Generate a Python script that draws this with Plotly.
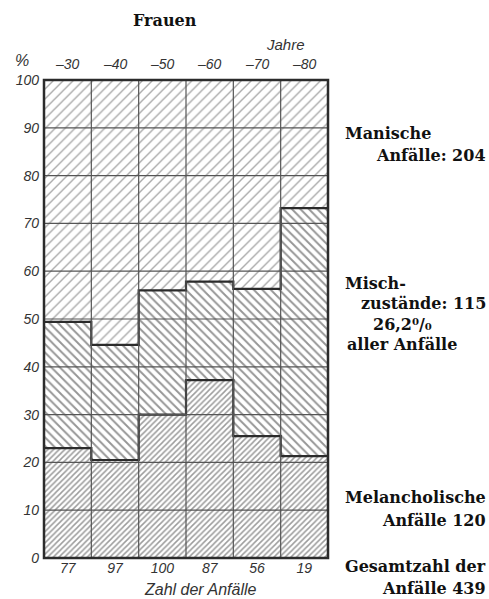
import plotly.graph_objects as go

age_groups = ["–30", "–40", "–50", "–60", "–70", "–80"]
case_counts = ["77", "97", "100", "87", "56", "19"]
melancholic = [23.0, 20.5, 30.0, 37.2, 25.5, 21.3]
mixed_top = [49.4, 44.6, 56.0, 57.8, 56.3, 73.2]
mixed = [round(t - m, 1) for t, m in zip(mixed_top, melancholic)]
manic = [round(100 - t, 1) for t in mixed_top]
y_ticks = list(range(0, 101, 10))

x = list(range(len(age_groups)))
LINE = "#2b2b2b"
fig = go.Figure()
fig.add_bar(x=x, y=melancholic, width=1,
            marker=dict(color="white", line=dict(width=0),
                        pattern=dict(shape="/", size=4, solidity=0.38, fgcolor="#3a3a3a", bgcolor="white")))
fig.add_bar(x=x, y=mixed, width=1,
            marker=dict(color="white", line=dict(width=0),
                        pattern=dict(shape="\\", size=6, solidity=0.32, fgcolor="#2e2e2e", bgcolor="white")))
fig.add_bar(x=x, y=manic, width=1,
            marker=dict(color="white", line=dict(width=0),
                        pattern=dict(shape="/", size=7, solidity=0.2, fgcolor="#555", bgcolor="white")))

# step boundaries between the segments
edges = [i - 0.5 for i in x] + [x[-1] + 0.5]
for vals in (melancholic, mixed_top):
    fig.add_scatter(x=edges, y=vals + [vals[-1]], mode="lines", line_shape="hv",
                    line=dict(color=LINE, width=2.2), hoverinfo="skip")

shapes = []
for v in y_ticks[1:-1]:
    shapes.append(dict(type="line", xref="paper", yref="y", x0=0, x1=1, y0=v, y1=v,
                       line=dict(color="#555", width=1.2), layer="above"))
for i in range(1, len(age_groups)):
    shapes.append(dict(type="line", xref="x", yref="paper", x0=i - 0.5, x1=i - 0.5, y0=0, y1=1,
                       line=dict(color="#555", width=1.2), layer="above"))
shapes.append(dict(type="rect", xref="paper", yref="paper", x0=0, x1=1, y0=0, y1=1,
                   line=dict(color=LINE, width=2.5), layer="above"))

W, H = 489, 599
L, R, T, B = 44, 161, 80, 41
PW, PH = W - L - R, H - T - B

def px(xp):
    return (xp - L) / PW

def py(yp):
    return (H - B - yp) / PH

ann = []
ital = dict(family="Liberation Sans", size=14, color="#333", style="italic")
for i, g in enumerate(age_groups):
    ann.append(dict(x=i, y=py(64), xref="x", yref="paper", text=g, showarrow=False,
                    font=ital, xanchor="center", yanchor="middle"))
ann.append(dict(x=px(285), y=py(45), xref="paper", yref="paper", text="Jahre", showarrow=False,
                font=dict(family="Liberation Sans", size=15, color="#333", style="italic"),
                xanchor="center", yanchor="middle"))
ann.append(dict(x=px(22), y=py(60), xref="paper", yref="paper", text="%", showarrow=False,
                font=dict(family="Liberation Sans", size=16, color="#333", style="italic"),
                xanchor="center", yanchor="middle"))
ann.append(dict(x=px(200), y=py(589), xref="paper", yref="paper", text="Zahl der Anfälle", showarrow=False,
                font=dict(family="Liberation Sans", size=16, color="#333", style="italic"),
                xanchor="center", yanchor="middle"))
ann.append(dict(x=px(165), y=py(20), xref="paper", yref="paper", text="<b>Frauen</b>", showarrow=False,
                font=dict(family="DejaVu Serif", size=16, color="#111"), xanchor="center", yanchor="middle"))

serif = dict(family="DejaVu Serif", size=16, color="#111", weight="bold")
right_lines = [
    ("Manische", 343, 133, "left"),
    ("Anfälle: 204", 488, 155, "right"),
    ("Misch-", 343, 283, "left"),
    ("zustände: 115", 488, 303, "right"),
    ("26,2⁰/₀", 402, 324, "center"),
    ("aller Anfälle", 345, 344, "left"),
    ("Melancholische", 488, 497, "right"),
    ("Anfälle 120", 488, 520, "right"),
    ("Gesamtzahl der", 488, 566, "right"),
    ("Anfälle 439", 488, 588, "right"),
]
for text, xp, yp, anchor in right_lines:
    ann.append(dict(x=px(xp), y=py(yp), xref="paper", yref="paper", text=text, showarrow=False,
                    font=serif, xanchor=anchor, yanchor="middle"))

fig.update_layout(
    barmode="stack", bargap=0, showlegend=False,
    width=W, height=H, margin=dict(l=L, r=R, t=T, b=B),
    paper_bgcolor="white", plot_bgcolor="white",
    shapes=shapes, annotations=ann,
    xaxis=dict(range=[-0.5, len(age_groups) - 0.5], tickvals=x, ticktext=case_counts,
               tickfont=ital, showgrid=False, zeroline=False, ticks="", ticklen=0, automargin=False),
    yaxis=dict(range=[0, 100], tickvals=y_ticks, tickfont=ital, showgrid=False,
               zeroline=False, ticks="", ticklabelstandoff=4, automargin=False),
)
fig.write_html("out.html", config={"displayModeBar": False},
               post_script="document.body.style.margin='0px';document.body.style.overflow='hidden';")
